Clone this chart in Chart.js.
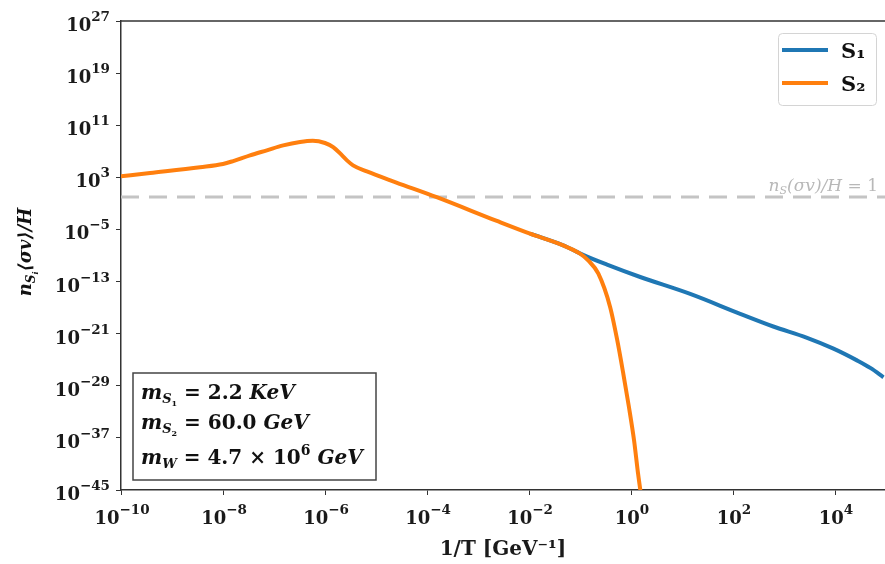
<!DOCTYPE html>
<html><head><meta charset="utf-8">
<script src="https://cdn.jsdelivr.net/npm/chart.js@4"></script>
<style>html,body{margin:0;padding:0;background:#fff}#wrap{width:885px;height:564px;position:relative}</style>
</head><body><div id="wrap"><canvas id="c" width="885" height="564"></canvas></div>
<script>
// ---- data (log10 values) ----
const xTickExps = [-10, -8, -6, -4, -2, 0, 2, 4];
const yTickExps = [-45, -37, -29, -21, -13, -5, 3, 11, 19, 27];
const xMinExp = -10, xMaxExp = 4.98;
const yMinExp = -45, yMaxExp = 27;

const s2LogX = [-10, -9.43, -8.45, -8, -7.8, -7.47, -7.14, -6.82, -6.49, -6.24, -6.0, -5.84, -5.67, -5.57, -5.45, -5.18, -4.6, -3.81, -2.63, -1.98, -1.33, -1.0, -0.84, -0.64, -0.41, -0.27, -0.15, -0.04, 0.06, 0.14, 0.21];
const s2LogY = [3.15, 3.66, 4.55, 5.05, 5.5, 6.38, 7.15, 7.9, 8.42, 8.6, 8.27, 7.65, 6.4, 5.6, 4.84, 3.9, 2.2, -0.05, -3.7, -5.65, -7.45, -8.72, -9.75, -11.8, -16.9, -22.0, -27.2, -32.3, -37.4, -42.6, -46.5];

const s1LogX = [-1.98, -1.33, -1.07, -0.94, -0.47, 0.18, 1.16, 2.14, 2.79, 3.44, 3.97, 4.43, 4.7, 4.95];
const s1LogY = [-5.65, -7.45, -8.4, -8.9, -10.4, -12.3, -14.9, -17.95, -19.9, -21.6, -23.3, -25.1, -26.3, -27.7];

const thresholdValue = 1;
const seriesLabels = ['S\u2081', 'S\u2082'];
const seriesColors = ['#1f77b4', '#ff7f0e'];
const boxLines = [
  {sub: 'S', subsub: '1', value: '2.2', unit: 'KeV'},
  {sub: 'S', subsub: '2', value: '60.0', unit: 'GeV'},
  {sub: 'W', subsub: '', value: '4.7 \u00d7 10', sup: '6', unit: 'GeV'}
];

// ---- helpers ----
const pts = (lx, ly) => lx.map((x, i) => ({x: Math.pow(10, x), y: Math.pow(10, ly[i])}));
const expText = v => String(Math.round(Math.log10(v))).replace('-', '\u2212');

const SERIF = '"DejaVu Serif", serif';
const B = s => `bold ${s}px ${SERIF}`;
const BI = s => `italic bold ${s}px ${SERIF}`;
const I = s => `italic ${s}px ${SERIF}`;
const R = s => `${s}px ${SERIF}`;

function richWidth(ctx, segs) {
  let w = 0;
  for (const s of segs) { ctx.font = s.f; w += ctx.measureText(s.t).width; }
  return w;
}
function drawRich(ctx, x, y, segs) {
  for (const s of segs) {
    ctx.font = s.f;
    ctx.fillText(s.t, x, y + (s.dy || 0));
    x += ctx.measureText(s.t).width;
  }
  return x;
}
const powSegs = v => [{t: '10', f: B(18)}, {t: expText(v), f: B(13.5), dy: -10}];

const decor = {
  id: 'decor',
  afterDraw(chart) {
    const ctx = chart.ctx;
    const ca = chart.chartArea;
    ctx.save();
    // top spine
    ctx.strokeStyle = '#333'; ctx.lineWidth = 1.5;
    ctx.beginPath(); ctx.moveTo(ca.left, ca.top); ctx.lineTo(ca.right, ca.top); ctx.stroke();

    ctx.textBaseline = 'alphabetic'; ctx.textAlign = 'left';
    ctx.fillStyle = '#1a1a1a';

    // tick labels (powers of ten) at the scales' tick positions
    const xs = chart.scales.x, ys = chart.scales.y;
    xs.ticks.forEach(t => {
      const px = xs.getPixelForValue(t.value);
      const segs = powSegs(t.value);
      const w = richWidth(ctx, segs);
      drawRich(ctx, px - w / 2 + 1, ca.bottom + 34, segs);
    });
    ys.ticks.forEach(t => {
      const py = ys.getPixelForValue(t.value);
      const segs = powSegs(t.value);
      const w = richWidth(ctx, segs);
      drawRich(ctx, 110 - w, py + 10, segs);
    });

    // threshold label
    ctx.fillStyle = '#b8b8b8';
    const thr = [
      {t: 'n', f: I(17)}, {t: 'S', f: I(11), dy: 3},
      {t: '(\u03c3v)/', f: I(17)}, {t: 'H', f: I(17)}, {t: ' = 1', f: R(17)}
    ];
    const tw = richWidth(ctx, thr);
    drawRich(ctx, 878 - tw, 191, thr);

    // legend
    ctx.fillStyle = 'rgba(255,255,255,0.9)';
    ctx.strokeStyle = '#d4d4d4'; ctx.lineWidth = 1;
    ctx.beginPath();
    ctx.roundRect(778.5, 33.5, 98, 72, 4);
    ctx.fill(); ctx.stroke();
    const ds = chart.data.datasets;
    [0, 1].forEach((i, k) => {
      const y = 50 + k * 33;
      ctx.strokeStyle = ds[i].borderColor; ctx.lineWidth = 4; ctx.lineCap = 'butt';
      ctx.beginPath(); ctx.moveTo(782, y); ctx.lineTo(828, y); ctx.stroke();
      ctx.fillStyle = '#111';
      ctx.font = B(21);
      ctx.fillText(ds[i].label, 841, y + 8);
    });

    // parameter box
    ctx.fillStyle = '#fff';
    ctx.strokeStyle = '#444'; ctx.lineWidth = 1.5;
    ctx.fillRect(133, 373, 243, 107);
    ctx.strokeRect(133, 373, 243, 107);
    ctx.fillStyle = '#111';
    const bases = [399, 429, 464];
    boxLines.forEach((ln, i) => {
      const segs = [{t: 'm', f: BI(20)}, {t: ln.sub, f: BI(13), dy: 4}];
      if (ln.subsub) segs.push({t: ln.subsub, f: B(8), dy: 7});
      segs.push({t: ' = ' + ln.value, f: B(20)});
      if (ln.sup) segs.push({t: ln.sup, f: B(14), dy: -9});
      segs.push({t: ' ' + ln.unit, f: BI(20)});
      drawRich(ctx, 141, bases[i], segs);
    });

    // y title (rotated)
    const yt = [
      {t: 'n', f: BI(18)}, {t: 'S', f: BI(12), dy: 4}, {t: 'i', f: BI(8), dy: 7},
      {t: '\u27e8\u03c3v\u27e9/H', f: BI(18)}
    ];
    ctx.fillStyle = '#111';
    const yw = richWidth(ctx, yt);
    ctx.translate(31, 252);
    ctx.rotate(-Math.PI / 2);
    drawRich(ctx, -yw / 2, 0, yt);
    ctx.restore();
  }
};

new Chart(document.getElementById('c'), {
  type: 'line',
  data: {
    datasets: [
      {label: seriesLabels[0], data: pts(s1LogX, s1LogY), borderColor: seriesColors[0], borderWidth: 4,
       pointRadius: 0, cubicInterpolationMode: 'monotone', order: 2, fill: false},
      {label: seriesLabels[1], data: pts(s2LogX, s2LogY), borderColor: seriesColors[1], borderWidth: 4,
       pointRadius: 0, cubicInterpolationMode: 'monotone', order: 1, fill: false},
      {label: 'threshold', data: [{x: Math.pow(10, xMinExp), y: thresholdValue}, {x: Math.pow(10, xMaxExp), y: thresholdValue}],
       borderColor: '#c4c4c4', borderWidth: 3, borderDash: [18, 10], pointRadius: 0, order: 3, fill: false}
    ]
  },
  options: {
    responsive: false, animation: false, devicePixelRatio: 1,
    layout: {padding: {top: 21, right: 0, left: 0, bottom: 0}},
    plugins: {legend: {display: false}, tooltip: {enabled: false}},
    scales: {
      x: {
        type: 'logarithmic', min: Math.pow(10, xMinExp), max: Math.pow(10, xMaxExp),
        afterBuildTicks: s => { s.ticks = xTickExps.map(e => ({value: Math.pow(10, e)})); },
        afterFit: s => { s.height = 74; },
        ticks: {display: false},
        grid: {drawOnChartArea: false, drawTicks: true, tickLength: 5, color: '#333', lineWidth: 1},
        border: {display: true, color: '#333', width: 1.5},
        title: {display: true, text: '1/T [GeV\u207b\u00b9]', font: {family: SERIF, size: 20, weight: 'bold'}, color: '#1a1a1a', padding: {top: 4, bottom: 2}}
      },
      y: {
        type: 'logarithmic', min: Math.pow(10, yMinExp), max: Math.pow(10, yMaxExp),
        afterBuildTicks: s => { s.ticks = yTickExps.map(e => ({value: Math.pow(10, e)})); },
        afterFit: s => { s.width = 121; },
        ticks: {display: false},
        grid: {drawOnChartArea: false, drawTicks: true, tickLength: 5, color: '#333', lineWidth: 1},
        border: {display: true, color: '#333', width: 1.5}
      }
    }
  },
  plugins: [decor]
});
</script>
</body></html>
